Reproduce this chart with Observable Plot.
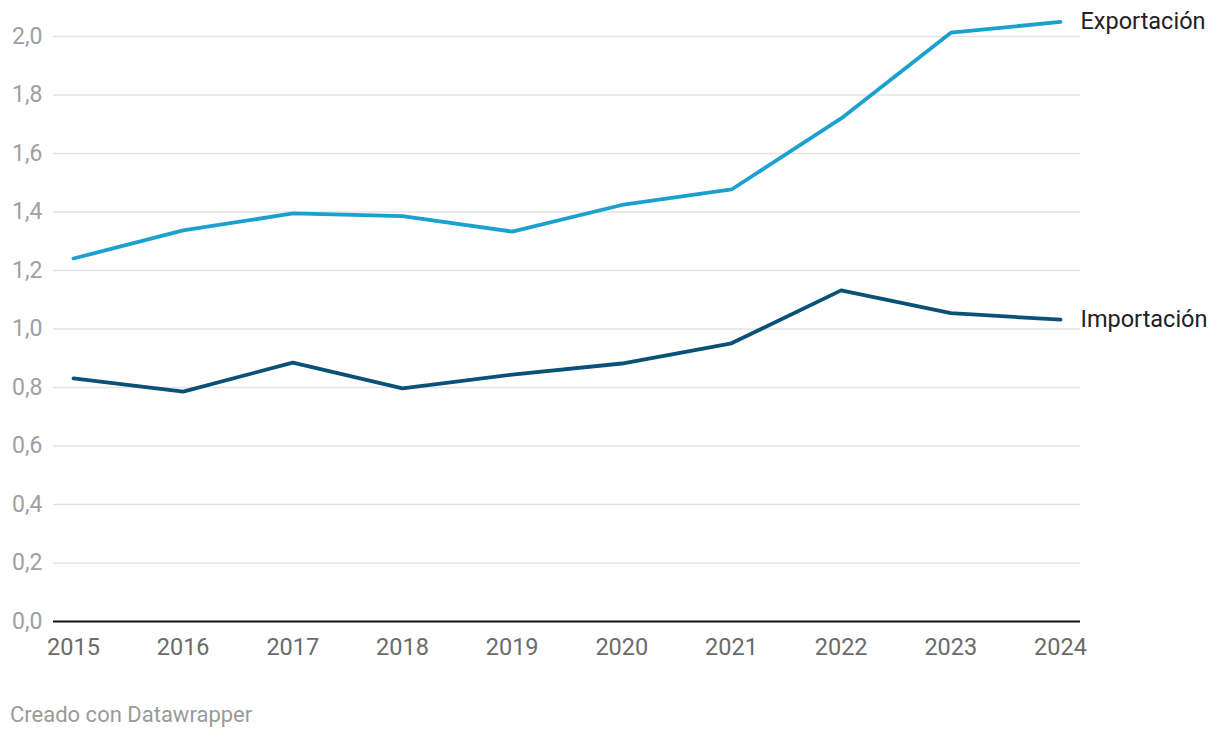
<!DOCTYPE html>
<html>
<head>
<meta charset="utf-8">
<script src="https://cdn.jsdelivr.net/npm/d3@7"></script>
<script src="https://cdn.jsdelivr.net/npm/@observablehq/plot@0.6"></script>
<style>
  html, body { margin: 0; padding: 0; background: #fff; }
  body { width: 1220px; height: 738px; font-family: Roboto, "Noto Sans", sans-serif; }
  #chart svg { display: block; }
  .foot { font-family: Roboto, sans-serif; font-size: 22px; color: #9a9a9a; margin: 31px 0 0 10px; }
</style>
</head>
<body>
<div id="chart"></div>
<div class="foot">Creado con Datawrapper</div>
<script>
const years = [2015, 2016, 2017, 2018, 2019, 2020, 2021, 2022, 2023, 2024];
const exportacion = [1.241, 1.337, 1.395, 1.386, 1.333, 1.424, 1.477, 1.72, 2.013, 2.05];
const importacion = [0.831, 0.786, 0.885, 0.797, 0.844, 0.882, 0.951, 1.132, 1.054, 1.032];
const seriesNames = ["Exportación", "Importación"];
const seriesColors = ["#1aa1cf", "#0a5178"];
const yTicks = [0, 0.2, 0.4, 0.6, 0.8, 1.0, 1.2, 1.4, 1.6, 1.8, 2.0];

const data = [];
years.forEach((y, i) => {
  data.push({year: y, value: exportacion[i], series: seriesNames[0]});
  data.push({year: y, value: importacion[i], series: seriesNames[1]});
});
const last = data.filter(d => d.year === years[years.length - 1]);

const fmt = d => d.toFixed(1).replace(".", ",");

const chart = Plot.plot({
  width: 1220,
  height: 671,
  marginLeft: 53,
  marginRight: 140,
  marginTop: 36,
  marginBottom: 50,
  style: {fontFamily: "Roboto, sans-serif", background: "#fff"},
  x: {domain: [2015, 2024], range: [73, 1060]},
  y: {domain: [0, 2.0]},
  color: {domain: seriesNames, range: seriesColors},
  marks: [
    Plot.ruleY(yTicks.filter(d => d > 0), {stroke: "#e3e3e3", strokeWidth: 1.5}),
    Plot.axisY({ticks: yTicks, tickFormat: fmt, tickSize: 0, tickPadding: 11, fontSize: 23, fill: "#a0a0a0", label: null}),
    Plot.axisX({ticks: years, tickFormat: d => String(d), tickSize: 0, tickPadding: 17, fontSize: 23.5, fill: "#6b6b6b", label: null}),
    Plot.ruleY([0], {stroke: "#111", strokeWidth: 2}),
    Plot.line(data, {x: "year", y: "value", z: "series", stroke: "series", strokeWidth: 3.8, strokeLinejoin: "round", strokeLinecap: "round"}),
    Plot.text(last, {x: "year", y: "value", text: "series", dx: 20, textAnchor: "start", fontSize: 23.5, fill: "#222"})
  ]
});
document.getElementById("chart").appendChild(chart);
</script>
</body>
</html>
